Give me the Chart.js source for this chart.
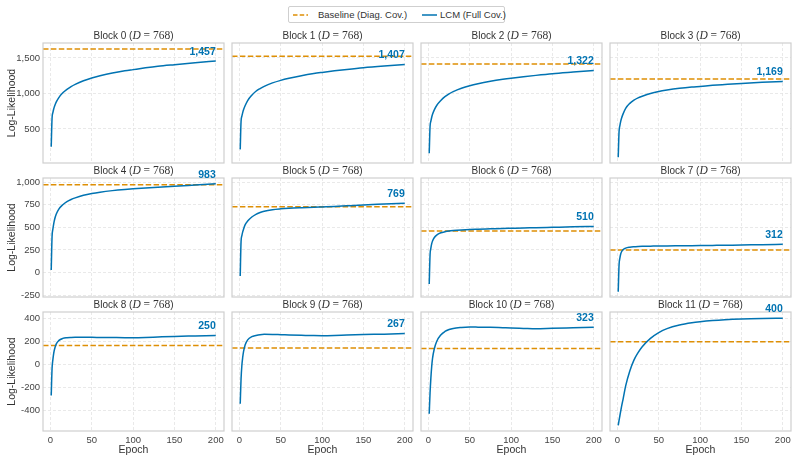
<!DOCTYPE html>
<html><head><meta charset="utf-8">
<script src="https://cdn.jsdelivr.net/npm/chart.js@4.4.1/dist/chart.umd.min.js"></script>
<style>
html,body{margin:0;padding:0;background:#fff;}
#root{position:relative;width:797px;height:462px;overflow:hidden;background:#fff;}
.panel{position:absolute;}
#legend{position:absolute;left:288px;top:6px;width:217px;height:17px;border:1px solid #cfcfcf;border-radius:2px;box-sizing:border-box;font:9.5px "Liberation Sans",Arial,sans-serif;color:#333;background:#fff;}
#legend span{position:absolute;top:0;line-height:15px;white-space:nowrap;}
#legend svg{position:absolute;top:7px;}
</style></head><body><div id="root">
<div id="legend">
<svg width="15" height="2" style="left:4px"><line x1="0" y1="1" x2="15" y2="1" stroke="#DE8F05" stroke-width="1.5" stroke-dasharray="4.5,2.2"/></svg>
<span style="left:29px">Baseline (Diag. Cov.)</span>
<svg width="15" height="2" style="left:133px"><line x1="0" y1="1" x2="15" y2="1" stroke="#0173B2" stroke-width="1.5"/></svg>
<span style="left:151px">LCM (Full Cov.)</span>
</div>
</div>
<script>
// ---- data ----
const epochs = [1,2,3,4,5,7,10,15,20,25,30,40,50,60,75,90,100,115,130,150,175,200];
const block0  = [250,651,730,780,818,877,938,1008,1058,1097,1128,1178,1217,1248,1287,1318,1335,1360,1382,1405,1432,1457];
const block1  = [212,604,680,730,770,830,900,975,1030,1068,1100,1148,1184,1213,1250,1280,1296,1318,1338,1362,1386,1407];
const block2  = [156,533,610,665,705,765,830,900,955,995,1025,1072,1108,1136,1170,1198,1214,1235,1254,1277,1300,1322];
const block3  = [100,462,545,605,650,715,790,860,905,937,960,1000,1028,1048,1072,1090,1099,1114,1126,1141,1156,1169];
const block4  = [27,397,480,540,585,645,700,752,786,810,828,856,876,891,908,921,928,937,946,957,970,983];
const block5  = [-39,342,410,450,480,530,570,615,645,665,680,697,706,712,718,723,727,733,740,749,759,769];
const block6  = [-128,194,270,320,350,385,415,440,452,460,465,472,477,480,484,488,490,493,497,501,506,510];
const block7  = [-213,83,160,205,230,255,270,280,285,288,290,292,294,295,296,297,298,300,302,305,308,312];
const block8  = [-273,-40,40,95,130,175,205,225,231,233,234,234,234,233,232,231,231,233,237,242,246,250];
const block9  = [-345,-130,-10,60,110,170,212,240,250,257,260,259,257,255,252,249,248,250,254,258,262,267];
const block10 = [-432,-250,-120,-20,50,130,198,255,285,302,312,320,324,323,321,318,316,312,308,313,318,323];
const block11 = [-533,-490,-450,-410,-370,-300,-190,-60,35,100,152,225,275,310,342,362,371,381,388,394,398,400];
const baselines = [1627,1524,1415,1203,974,730,460,249,163,140,137,195];
const blockIds = [0,1,2,3,4,5,6,7,8,9,10,11];
const dims = [768,768,768,768,768,768,768,768,768,768,768,768];
const rowTicks = [[500,1000,1500],[-250,0,250,500,750,1000],[-400,-200,0,200,400]];
const epochTicks = [0,50,100,150,200];
const series = [block0,block1,block2,block3,block4,block5,block6,block7,block8,block9,block10,block11];

// ---- layout / style ----
const BLUE='#0173B2', ORANGE='#DE8F05', GRID='#e3e3e3', TICK='#444', TXT='#333';
const SANS='"Liberation Sans", Arial, sans-serif', SERIF='"Liberation Serif", "Times New Roman", serif';
const COLS=[43,232,421,610], ROWS=[43,178,312], PW=181, PH=[120,119,119];
const Y_LIMITS=[[20,1710],[-272,1048],[-583,455]];
const X_LIMITS=[-8.95,209.95];
const root=document.getElementById('root');

for(let i=0;i<12;i++){
  const r=Math.floor(i/4), c=i%4;
  const padL=c===0?43:4, padR=4, padT=16, padB=r===2?31:10;
  const W=padL+PW+padR, H=padT+PH[r]+padB;
  const canvasLeft=COLS[c]-padL, canvasTop=ROWS[r]-padT;
  const div=document.createElement('div'); div.className='panel';
  div.style.left=canvasLeft+'px'; div.style.top=canvasTop+'px';
  div.style.width=W+'px'; div.style.height=H+'px';
  const cv=document.createElement('canvas'); cv.width=W; cv.height=H;
  cv.style.width=W+'px'; cv.style.height=H+'px';
  div.appendChild(cv); root.appendChild(div);
  const vals=series[i];

  const deco={
    id:'deco'+i,
    afterDraw(chart){
      const ctx=chart.ctx, ca=chart.chartArea;
      const xs=chart.scales.x, ys=chart.scales.y;
      ctx.save();
      // frame
      ctx.strokeStyle='#cfcfcf'; ctx.lineWidth=1.2;
      ctx.strokeRect(ca.left, ca.top, ca.right-ca.left, ca.bottom-ca.top);
      // value label
      const lx=xs.getPixelForValue(epochs[epochs.length-1]);
      const lyv=ys.getPixelForValue(vals[vals.length-1]);
      ctx.fillStyle=BLUE; ctx.font='bold 10.5px '+SANS;
      ctx.textAlign='right'; ctx.textBaseline='bottom';
      ctx.fillText(vals[vals.length-1].toLocaleString('en-US'), lx, lyv-4);
      // title
      const segs=[
        {t:'Block '+blockIds[i]+' (', f:'10px '+SANS},
        {t:'D', f:'italic 11.5px '+SERIF},
        {t:' = '+dims[i], f:'11.5px '+SERIF},
        {t:')', f:'10px '+SANS}
      ];
      let tot=0; segs.forEach(s=>{ctx.font=s.f; s.w=ctx.measureText(s.t).width; tot+=s.w;});
      let x=(ca.left+ca.right)/2-tot/2; const ty=ca.top-7;
      ctx.fillStyle=TXT; ctx.textAlign='left'; ctx.textBaseline='middle';
      segs.forEach(s=>{ctx.font=s.f; ctx.fillText(s.t,x,ty); x+=s.w;});
      // axis titles
      ctx.font='10.5px '+SANS; ctx.fillStyle=TXT; ctx.textAlign='center'; ctx.textBaseline='middle';
      if(c===0){
        ctx.save(); ctx.translate(12-canvasLeft,(ca.top+ca.bottom)/2); ctx.rotate(-Math.PI/2);
        ctx.fillText('Log-Likelihood',0,0); ctx.restore();
      }
      if(r===2){
        ctx.fillText('Epoch',(ca.left+ca.right)/2,450-canvasTop);
      }
      ctx.restore();
    }
  };

  new Chart(cv,{
    type:'line',
    data:{datasets:[
      {label:'Baseline (Diag. Cov.)', data:[{x:X_LIMITS[0],y:baselines[i]},{x:X_LIMITS[1],y:baselines[i]}],
        borderColor:ORANGE, borderWidth:1.5, borderDash:[5.5,2.4], pointRadius:0, order:1},
      {label:'LCM (Full Cov.)', data:epochs.map((e,k)=>({x:e,y:vals[k]})),
        borderColor:BLUE, borderWidth:1.5, pointRadius:0, cubicInterpolationMode:'monotone', order:0}
    ]},
    options:{
      responsive:false, animation:false, devicePixelRatio:1, events:[],
      layout:{padding:{top:padT,right:padR,left:0,bottom:0}},
      plugins:{legend:{display:false},tooltip:{enabled:false},title:{display:false}},
      scales:{
        x:{type:'linear',min:X_LIMITS[0],max:X_LIMITS[1],
          afterBuildTicks:s=>{s.ticks=epochTicks.map(v=>({value:v}));},
          afterFit:s=>{s.height=padB;},
          grid:{color:GRID,lineWidth:0.8,drawTicks:false},
          border:{display:false,dash:[3,2]},
          ticks:{display:r===2,padding:4,autoSkip:false,maxRotation:0,color:TICK,font:{family:SANS,size:9.5},
            callback:v=>String(v)}
        },
        y:{type:'linear',min:Y_LIMITS[r][0],max:Y_LIMITS[r][1],
          afterBuildTicks:s=>{s.ticks=rowTicks[r].map(v=>({value:v}));},
          afterFit:s=>{s.width=padL;},
          grid:{color:GRID,lineWidth:0.8,drawTicks:false},
          border:{display:false,dash:[3,2]},
          ticks:{display:c===0,padding:3,autoSkip:false,color:TICK,font:{family:SANS,size:9.5},
            callback:v=>v.toLocaleString('en-US')}
        }
      }
    },
    plugins:[deco]
  });
}
</script></body></html>
